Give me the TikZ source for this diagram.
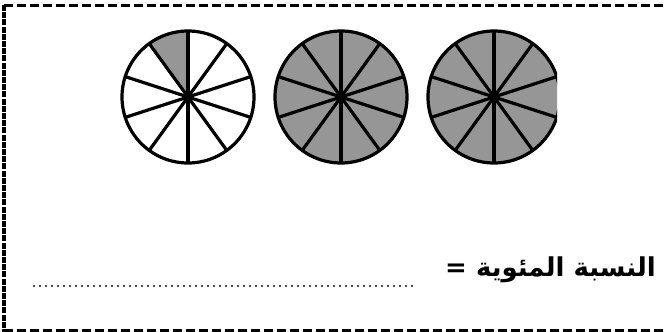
\documentclass[tikz,border=0pt]{standalone}
\usepackage{fontspec}
\newfontfamily\arabicfont[Script=Arabic]{DejaVu Sans Bold}
\TeXXeTstate=1
\definecolor{sectorgray}{RGB}{150,150,150}
\begin{document}
\begin{tikzpicture}[x=1pt, y=-1pt,
        frame/.style={line width=3pt, dash pattern=on 9pt off 4pt},
        sideframe/.style={line width=3.2pt, dash pattern=on 6pt off 1.2pt},
        wheel/.style={line width=3.2pt, draw=black},
        spoke/.style={line width=3.2pt},
        answerline/.style={line width=1.8pt, gray!60!black, dash pattern=on 1.8pt off 4.2pt},
        label/.style={font=\arabicfont\fontsize{26}{30}\selectfont, anchor=east, inner sep=0pt}
    ]
    \useasboundingbox (0,0) rectangle (665,332);

    % --- Frame ---
    \draw[frame] (4,5) -- (668,5);
    \draw[frame] (4,330) -- (668,330);
    \draw[sideframe] (4,5) -- (4,332);

    % --- Wheels ---
    \coordinate (w1) at (188,97);
    \coordinate (w2) at (341,97);
    \coordinate (w3) at (494,97);

    \begin{scope}
    \clip (0,0) rectangle (557,332);
    % one tenth shaded
    \fill[sectorgray] (w1) -- ++(90:-66) arc[start angle=-90, end angle=-126, radius=66] -- cycle;
    \fill[sectorgray] (w2) circle[radius=66];
    \fill[sectorgray] (w3) circle[radius=66];
    \foreach \w in {w1,w2,w3} {
        \draw[wheel] (\w) circle[radius=66];
        \foreach \a in {0,36,...,324}
            \draw[spoke] (\w) -- ++(\a+18:66);
        \fill (\w) circle[radius=5];
    }
    \end{scope}

    % --- Answer line ---
    \node[label] (percent) at (656,270) {\beginR النسبة المئوية =\endR};
    \coordinate (dots) at (33,286);
    \draw[answerline] (dots) -- (415,286);

\end{tikzpicture}
\end{document}
